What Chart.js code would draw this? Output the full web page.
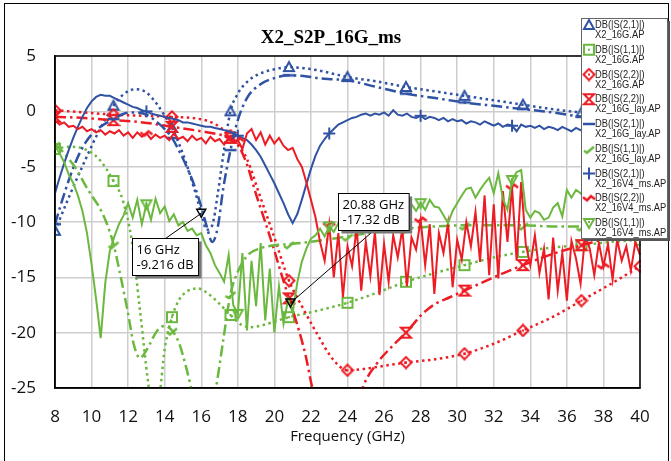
<!DOCTYPE html>
<html>
<head>
<meta charset="utf-8">
<script src="https://cdn.jsdelivr.net/npm/chart.js@4.4.1/dist/chart.umd.min.js"></script>
<style>
  html, body { margin: 0; padding: 0; background: #fff; }
</style>
</head>
<body>
<canvas id="sparams" width="671" height="461"></canvas>
<script>
const chartTitle = 'X2_S2P_16G_ms'

// legend text, one entry per trace
const seriesNames = ['DB(|S(2,1)|)', 'DB(|S(1,1)|)', 'DB(|S(2,2)|)', 'DB(|S(2,2)|)', 'DB(|S(2,1)|)', 'DB(|S(1,1)|)', 'DB(|S(2,1)|)', 'DB(|S(2,2)|)', 'DB(|S(1,1)|)']
const seriesFiles = ['X2_16G.AP', 'X2_16G.AP', 'X2_16G.AP', 'X2_16G_lay.AP', 'X2_16G_lay.AP', 'X2_16G_lay.AP', 'X2_16V4_ms.AP', 'X2_16V4_ms.AP', 'X2_16V4_ms.AP']

// marker frequencies (GHz)
const markEvery = [8, 11.2, 14.4, 17.6, 20.8, 24, 27.2, 30.4, 33.6, 36.8, 40]
const markMs = [13, 18, 23, 28, 33, 38]

// readouts
const noteFreq = [16, 20.88]
const noteLevel = [-9.216, -17.32]

// frequency grid of the measured (noisy) traces
const freqFine = [
  8, 8.25, 8.5, 8.75, 9, 9.25, 9.5, 9.75,
  10, 10.25, 10.5, 10.75, 11, 11.25, 11.5, 11.75,
  12, 12.25, 12.5, 12.75, 13, 13.25, 13.5, 13.75,
  14, 14.25, 14.5, 14.75, 15, 15.25, 15.5, 15.75,
  16, 16.25, 16.5, 16.75, 17, 17.25, 17.5, 17.75,
  18, 18.25, 18.5, 18.75, 19, 19.25, 19.5, 19.75,
  20, 20.25, 20.5, 20.75, 21, 21.25, 21.5, 21.75,
  22, 22.25, 22.5, 22.75, 23, 23.25, 23.5, 23.75,
  24, 24.25, 24.5, 24.75, 25, 25.25, 25.5, 25.75,
  26, 26.25, 26.5, 26.75, 27, 27.25, 27.5, 27.75,
  28, 28.25, 28.5, 28.75, 29, 29.25, 29.5, 29.75,
  30, 30.25, 30.5, 30.75, 31, 31.25, 31.5, 31.75,
  32, 32.25, 32.5, 32.75, 33, 33.25, 33.5, 33.75,
  34, 34.25, 34.5, 34.75, 35, 35.25, 35.5, 35.75,
  36, 36.25, 36.5, 36.75, 37, 37.25, 37.5, 37.75,
  38, 38.25, 38.5, 38.75, 39, 39.25, 39.5, 39.75,
  40
]

// DB(|S(2,1)|) X2_16V4_ms.AP
const s21Ms = [
  -7.4, -6.0, -4.7, -3.5, -2.4, -1.4, -0.5, 0.3,
  0.9, 1.3, 1.5, 1.4, 1.4, 1.2, 1.0, 0.8,
  0.6, 0.4, 0.3, 0.1, 0.0, -0.2, -0.3, -0.4,
  -0.5, -0.6, -0.7, -0.8, -1.0, -1.0, -1.1, -1.2,
  -1.3, -1.4, -1.4, -1.5, -1.6, -1.7, -1.8, -2.0,
  -2.2, -2.4, -2.6, -3.0, -3.5, -4.1, -4.9, -5.7,
  -6.5, -7.4, -8.3, -9.3, -10.1, -9.3, -8.0, -6.6,
  -5.2, -4.0, -3.1, -2.5, -2.0, -1.6, -1.2, -1.0,
  -0.8, -0.6, -0.5, -0.3, -0.2, -0.4, -0.2, -0.3,
  -0.1, -0.4, 0.1, -0.3, -0.4, -0.2, -0.5, -0.6,
  -0.4, -0.7, -0.5, -0.6, -0.8, -0.6, -0.9, -0.7,
  -0.9, -0.8, -1.1, -0.9, -1.0, -1.2, -0.9, -1.1,
  -1.3, -1.1, -1.4, -1.2, -1.3, -1.8, -1.2, -1.4,
  -1.3, -1.5, -1.3, -1.6, -1.4, -1.5, -1.7, -1.4,
  -1.6, -1.8, -1.5, -1.7, -1.6, -1.8, -1.7, -1.9,
  -1.7, -1.9, -1.8, -2.0, -1.8, -1.9, -2.1, -1.9,
  -2.0
]

// DB(|S(2,2)|) X2_16V4_ms.AP
const s22Ms = [
  -0.8, -1.2, -1.0, -1.4, -1.3, -1.6, -1.4, -1.8,
  -1.6, -1.9, -1.7, -2.1, -1.8, -2.0, -1.7, -2.2,
  -1.9, -2.4, -1.9, -2.3, -2.0, -2.5, -2.1, -2.4,
  -2.2, -2.6, -2.0, -2.5, -2.3, -2.7, -2.2, -2.6,
  -2.4, -2.9, -2.3, -2.7, -2.5, -3.0, -2.4, -2.8,
  -2.6, -3.4, -2.0, -1.6, -2.6, -1.9, -3.0, -2.2,
  -2.9, -2.4, -3.1, -3.5, -3.3, -4.3, -5.0, -6.4,
  -8.0, -9.6, -11.8, -13.5, -10.2, -15.0, -11.0, -16.8,
  -12.2, -14.0, -10.5, -16.2, -11.8, -14.9, -10.9, -16.6,
  -12.0, -15.4, -11.2, -13.2, -10.6, -15.8, -11.4, -12.5,
  -9.8, -13.9, -10.2, -16.5, -11.0, -12.8, -10.1, -15.9,
  -11.6, -13.4, -10.0, -12.2, -9.1, -13.6, -7.6, -14.8,
  -8.4, -15.1, -7.2, -11.8, -6.8, -13.5, -6.4, -12.0,
  -13.9, -11.2, -14.6, -12.4, -17.0, -11.4, -16.2, -12.8,
  -17.1, -11.7, -13.3, -15.6, -11.2, -12.4, -14.8, -11.9,
  -14.0, -12.0, -15.2, -11.6, -13.5, -12.2, -14.4, -11.8,
  -13.0
]

// DB(|S(1,1)|) X2_16V4_ms.AP
const s11Ms = [
  -3.1, -3.8, -4.6, -5.7, -6.5, -7.6, -9.0, -11.0,
  -13.8, -17.0, -20.5, -15.5, -12.6, -11.3, -10.2, -9.4,
  -8.3, -9.6, -8.0, -10.2, -8.4, -9.8, -7.9, -9.2,
  -8.6, -9.9, -9.3, -10.3, -10.0, -10.8, -10.6, -11.2,
  -11.0, -12.1, -12.8, -13.9, -14.6, -15.4, -13.0, -17.5,
  -18.3, -12.8, -19.8, -13.5, -17.6, -11.9, -18.9, -14.2,
  -20.0, -15.8, -19.2, -17.0, -18.2, -15.5, -13.6, -12.4,
  -11.5, -11.2, -10.6, -11.3, -10.4, -10.9, -10.1, -10.7,
  -9.8, -10.3, -9.5, -10.1, -9.4, -9.9, -9.1, -9.7,
  -9.0, -9.6, -8.9, -9.4, -8.6, -9.3, -8.4, -9.0,
  -8.3, -8.9, -8.0, -8.6, -8.7, -9.4, -10.1, -9.0,
  -8.3, -7.6, -7.0, -6.9, -7.8, -7.1, -6.5, -6.0,
  -7.4, -5.6, -7.9, -8.9, -6.2, -5.5, -5.3, -8.9,
  -9.6, -9.0, -9.2, -9.8, -9.6, -8.7, -8.3, -9.5,
  -7.1, -7.8, -7.1, -7.4, -8.0, -8.4, -7.9, -8.3,
  -8.0, -8.5, -8.2, -8.6, -8.1, -8.4, -8.3, -8.6,
  -8.5
]

// DB(|S(2,1)|) X2_16G.AP
const s21GFreq = [8, 8.8, 9.6, 10.4, 11.2, 11.8, 12.4, 13.0, 13.6, 14.0, 14.4, 14.8, 15.2, 15.6, 16.0, 16.3, 16.6, 16.9, 17.2, 17.6, 18.0, 18.6, 19.2, 20.0, 20.8, 21.6, 22.4, 23.2, 24.0, 25.6, 27.2, 28.8, 30.4, 32.0, 33.6, 35.2, 36.8, 38.4, 40]
const s21G = [-10.8, -7.6, -4.6, -1.8, 0.5, 1.6, 2.0, 1.7, 0.6, -0.4, -1.5, -3.0, -4.8, -6.9, -9.2, -10.7, -10.3, -7.5, -4.0, 0.0, 1.6, 2.8, 3.4, 3.8, 4.0, 3.9, 3.7, 3.4, 3.1, 2.7, 2.2, 1.8, 1.4, 1.0, 0.6, 0.2, -0.1, -0.3, -0.5]

// DB(|S(1,1)|) X2_16G.AP
const s11GFreq = [8, 8.8, 9.6, 10.4, 11.2, 11.7, 12.2, 12.65, 13.1, 13.4, 13.7, 14.0, 14.4, 14.8, 15.2, 15.8, 16.4, 17.0, 17.6, 18.2, 18.8, 19.4, 20.0, 20.8, 22.4, 24.0, 25.6, 27.2, 28.8, 30.4, 32.0, 33.6, 35.2, 36.8, 38.4, 40]
const s11G = [-3.4, -3.2, -3.4, -4.3, -6.3, -8.0, -11.7, -18.0, -24.6, -28.0, -26.0, -21.5, -18.6, -17.0, -16.3, -16.0, -16.5, -17.4, -18.4, -19.3, -19.5, -19.3, -19.0, -18.6, -18.0, -17.3, -16.4, -15.4, -14.6, -13.9, -13.2, -12.7, -12.3, -12.1, -11.8, -11.6]

// DB(|S(2,2)|) X2_16G.AP
const s22GFreq = [8, 9.6, 11.2, 12.8, 14.4, 15.5, 16.4, 17.0, 17.6, 18.0, 18.5, 19.2, 20.0, 20.8, 21.6, 22.3, 23.2, 24.0, 24.8, 25.6, 27.2, 28.8, 30.4, 32.0, 33.6, 35.2, 36.8, 38.4, 40]
const s22G = [0.1, -0.1, -0.3, -0.4, -0.5, -0.6, -0.9, -1.4, -2.2, -3.0, -4.3, -7.6, -11.4, -15.3, -17.9, -20.0, -22.4, -23.4, -23.3, -23.1, -22.7, -22.4, -21.9, -21.0, -19.8, -18.6, -17.1, -15.6, -14.0]

// DB(|S(2,2)|) X2_16G_lay.AP
const s22LayFreq = [8, 9.6, 11.2, 12.8, 14.4, 16.0, 17.0, 17.6, 18.0, 18.5, 19.0, 19.5, 20.0, 20.4, 20.8, 21.2, 21.7, 22.06, 22.5, 23.2, 24.0, 24.5, 24.85, 25.6, 26.4, 27.2, 28.1, 28.8, 29.6, 30.4, 32.0, 33.6, 35.2, 36.8, 38.4, 40]
const s22Lay = [-0.5, -0.6, -0.8, -1.0, -1.4, -1.8, -2.1, -2.4, -3.0, -4.8, -7.5, -10.0, -12.6, -14.8, -16.9, -19.0, -22.0, -24.9, -28.0, -31.0, -30.0, -27.0, -24.9, -22.8, -21.3, -20.0, -18.3, -17.4, -16.8, -16.2, -15.0, -13.9, -12.9, -12.1, -11.4, -10.8]

// DB(|S(2,1)|) X2_16G_lay.AP
const s21LayFreq = [8, 8.4, 8.8, 9.2, 9.6, 10.0, 10.4, 11.2, 11.8, 12.4, 13.0, 13.6, 14.0, 14.4, 14.8, 15.2, 15.6, 16.0, 16.3, 16.6, 16.9, 17.2, 17.6, 18.0, 18.5, 19.2, 20.0, 20.8, 21.6, 22.4, 23.2, 24.0, 25.6, 27.2, 28.8, 30.4, 32.0, 33.6, 35.2, 36.8, 38.4, 40]
const s21Lay = [-10.2, -8.0, -6.0, -4.3, -3.0, -2.1, -1.5, -0.7, -0.2, -0.1, -0.3, -1.0, -1.6, -2.4, -3.6, -5.0, -6.6, -8.6, -10.4, -11.8, -10.5, -7.0, -3.5, -0.8, 1.2, 2.4, 3.0, 3.25, 3.2, 3.0, 2.9, 2.8, 2.2, 1.6, 1.2, 0.8, 0.5, 0.2, -0.1, -0.5, -0.8, -1.0]

// DB(|S(1,1)|) X2_16G_lay.AP
const s11LayFreq = [8, 8.4, 8.8, 9.2, 9.6, 10.0, 10.4, 10.8, 11.2, 11.6, 12.0, 12.3, 12.65, 13.0, 13.6, 14.0, 14.4, 14.8, 15.2, 15.6, 16.0, 16.4, 16.8, 17.2, 17.6, 18.0, 18.6, 19.2, 20.0, 20.8, 22.4, 24.0, 25.6, 27.2, 28.8, 30.4, 32.0, 33.6, 35.2, 36.8, 38.4, 40]
const s11Lay = [-3.0, -3.6, -4.4, -5.3, -6.5, -7.6, -8.6, -10.0, -12.0, -15.0, -18.3, -21.0, -22.3, -21.6, -19.8, -19.4, -19.8, -21.0, -23.3, -26.0, -28.0, -27.5, -25.0, -20.7, -16.5, -14.5, -12.9, -12.4, -12.1, -12.0, -11.7, -11.3, -10.9, -10.6, -10.4, -10.3, -10.3, -10.3, -10.4, -10.4, -10.5, -10.6]

const BLUE = '#3052a3'
const RED = '#ed1c24'
const GREEN = '#6bb83f'
const DOT = [2.5, 3.5]
const DASHDOT = [11, 4, 2.5, 4]

// small marker glyphs, used on the traces and in the legend
function makeMarker (kind, color) {
  const c = document.createElement('canvas')
  c.width = 14
  c.height = 14
  const g = c.getContext('2d')
  g.strokeStyle = color
  g.fillStyle = color
  g.lineWidth = 2
  g.beginPath()
  if (kind === 'tri') {
    g.moveTo(7, 2); g.lineTo(12, 11); g.lineTo(2, 11); g.closePath(); g.stroke()
  } else if (kind === 'square') {
    g.strokeRect(2, 2, 10, 10); g.fillRect(6, 6, 2, 2)
  } else if (kind === 'diamond') {
    g.moveTo(7, 1.5); g.lineTo(12.5, 7); g.lineTo(7, 12.5); g.lineTo(1.5, 7); g.closePath(); g.stroke()
    g.fillRect(6, 6, 2, 2)
  } else if (kind === 'hourglass') {
    g.moveTo(2, 2); g.lineTo(12, 2); g.lineTo(2, 12); g.lineTo(12, 12); g.closePath(); g.stroke()
  } else if (kind === 'dash') {
    g.lineWidth = 2.5; g.moveTo(1, 7); g.lineTo(13, 7); g.stroke()
  } else if (kind === 'check') {
    g.lineWidth = 2.5; g.moveTo(2, 9); g.lineTo(5, 11); g.lineTo(12, 5); g.stroke()
  } else if (kind === 'plus') {
    g.moveTo(1, 7); g.lineTo(13, 7); g.moveTo(7, 1); g.lineTo(7, 13); g.stroke()
  } else if (kind === 'zigzag') {
    g.lineWidth = 2.5; g.moveTo(1, 6); g.lineTo(5, 9); g.lineTo(9, 5); g.lineTo(13, 8); g.stroke()
  } else if (kind === 'invtri') {
    g.moveTo(2, 3); g.lineTo(12, 3); g.lineTo(7, 12); g.closePath(); g.stroke(); g.fillRect(6, 5, 2, 2)
  }
  return c
}

const traces = [
  { xs: s21GFreq, ys: s21G, color: BLUE, dash: DOT, marker: 'tri', marks: markEvery },
  { xs: s11GFreq, ys: s11G, color: GREEN, dash: DOT, marker: 'square', marks: markEvery },
  { xs: s22GFreq, ys: s22G, color: RED, dash: DOT, marker: 'diamond', marks: markEvery },
  { xs: s22LayFreq, ys: s22Lay, color: RED, dash: DASHDOT, marker: 'hourglass', marks: markEvery },
  { xs: s21LayFreq, ys: s21Lay, color: BLUE, dash: DASHDOT, marker: 'dash', marks: markEvery },
  { xs: s11LayFreq, ys: s11Lay, color: GREEN, dash: DASHDOT, marker: 'check', marks: markEvery },
  { xs: freqFine, ys: s21Ms, color: BLUE, dash: [], marker: 'plus', marks: markMs },
  { xs: freqFine, ys: s22Ms, color: RED, dash: [], marker: 'zigzag', marks: markMs },
  { xs: freqFine, ys: s11Ms, color: GREEN, dash: [], marker: 'invtri', marks: markMs }
]
const icons = traces.map(t => makeMarker(t.marker, t.color))

const datasets = traces.map((t, i) => ({
  label: seriesNames[i] + ' ' + seriesFiles[i],
  data: t.xs.map((x, k) => ({ x, y: t.ys[k] })),
  showLine: true,
  borderColor: t.color,
  backgroundColor: t.color,
  borderWidth: t.dash.length ? 2.5 : 2,
  borderDash: t.dash,
  cubicInterpolationMode: t.dash.length ? 'monotone' : 'default',
  tension: 0,
  pointStyle: icons[i],
  pointRadius: c => (c.raw && t.marks.some(m => Math.abs(m - c.raw.x) < 0.01)) ? 5 : 0,
  pointHoverRadius: 0,
  clip: 1,
  order: traces.length - i
}))

// title, frames, readout boxes and the legend drawn over the plot
const overlays = {
  id: 'overlays',
  afterDraw (chart) {
    const { ctx, chartArea: a, scales } = chart
    ctx.save()

    ctx.fillStyle = '#000'
    ctx.font = 'bold 19px "Liberation Serif", serif'
    ctx.textAlign = 'center'
    ctx.textBaseline = 'middle'
    ctx.fillText(chartTitle, 331, 38)
    ctx.textAlign = 'left'

    ctx.strokeStyle = '#000'
    ctx.lineWidth = 1.5
    ctx.strokeRect(a.left, a.top, a.right - a.left, a.bottom - a.top)
    ctx.lineWidth = 1
    ctx.strokeRect(4.5, 3.5, 664, 470)

    // readouts
    const boxAt = [[-69, 25, 'top'], [48, -110, 'bottom']]
    ctx.font = '13px "Open Sans"'
    noteFreq.forEach((f, i) => {
      const mx = scales.x.getPixelForValue(f)
      const my = scales.y.getPixelForValue(noteLevel[i])
      const lines = [f + ' GHz', noteLevel[i] + ' dB']
      const w = Math.max(...lines.map(s => ctx.measureText(s).width)) + 9
      const h = 37
      const bx = Math.round(mx + boxAt[i][0]) + 0.5
      const by = Math.round(my + boxAt[i][1]) + 0.5
      ctx.strokeStyle = '#000'
      ctx.lineWidth = 1
      ctx.beginPath()
      ctx.moveTo(bx + w / 2, boxAt[i][2] === 'top' ? by : by + h)
      ctx.lineTo(mx, my)
      ctx.stroke()
      ctx.beginPath()
      ctx.moveTo(mx - 4.5, my - 4)
      ctx.lineTo(mx + 4.5, my - 4)
      ctx.lineTo(mx, my + 4)
      ctx.closePath()
      ctx.lineWidth = 1.5
      ctx.stroke()
      ctx.fillStyle = '#777'
      ctx.fillRect(bx + 3, by + 3, w, h)
      ctx.fillStyle = '#fff'
      ctx.fillRect(bx, by, w, h)
      ctx.lineWidth = 1
      ctx.strokeRect(bx, by, w, h)
      ctx.fillStyle = '#000'
      ctx.fillText(lines[0], bx + 4, by + 12)
      ctx.fillText(lines[1], bx + 4, by + 27)
    })

    // legend
    const lx = 581
    const ly = 18
    const lw = 86
    const lh = 220
    ctx.fillStyle = '#555'
    ctx.fillRect(lx + 3, ly + 3, lw, lh)
    ctx.fillStyle = '#fff'
    ctx.fillRect(lx, ly, lw, lh)
    ctx.strokeStyle = '#666'
    ctx.strokeRect(lx + 0.5, ly + 0.5, lw, lh)
    ctx.beginPath()
    ctx.rect(lx, ly, lw, lh)
    ctx.clip()
    ctx.font = '11px "Liberation Sans", Arial, sans-serif'
    ctx.fillStyle = '#222'
    seriesNames.forEach((name, i) => {
      const ty = 25 + i * 24.75
      ctx.drawImage(icons[i], lx + 1, ty - 7)
      ctx.save()
      ctx.translate(lx + 14, ty)
      ctx.scale(0.85, 1)
      ctx.fillText(name, 0, 0)
      ctx.fillText(seriesFiles[i], 0, 10)
      ctx.restore()
    })
    ctx.restore()
  }
}

const tickFont = { family: '"Open Sans"', size: 17 }

new Chart(document.getElementById('sparams'), {
  type: 'scatter',
  data: { datasets },
  options: {
    responsive: false,
    animation: false,
    layout: { padding: { left: 0, right: 31, top: 56, bottom: 0 } },
    scales: {
      x: {
        type: 'linear',
        min: 8,
        max: 40,
        ticks: { stepSize: 2, color: '#111', font: tickFont, padding: 19, maxRotation: 0 },
        grid: { color: '#cdcdcd', lineWidth: 1.5, drawTicks: false },
        border: { display: true, color: '#000', width: 1.5 },
        title: {
          display: true,
          text: 'Frequency (GHz)',
          color: '#111',
          font: { family: '"Open Sans"', size: 15 },
          padding: { top: 0, bottom: 15 }
        },
        afterFit: s => { s.height = 73 }
      },
      y: {
        min: -25,
        max: 5,
        ticks: { stepSize: 5, color: '#111', font: tickFont, padding: 19 },
        grid: { color: '#cdcdcd', lineWidth: 1.5, drawTicks: false },
        border: { display: true, color: '#000', width: 1.5 },
        afterFit: s => { s.width = 55 }
      }
    },
    plugins: {
      legend: { display: false },
      tooltip: { enabled: false }
    }
  },
  plugins: [overlays]
})
</script>
</body>
</html>
